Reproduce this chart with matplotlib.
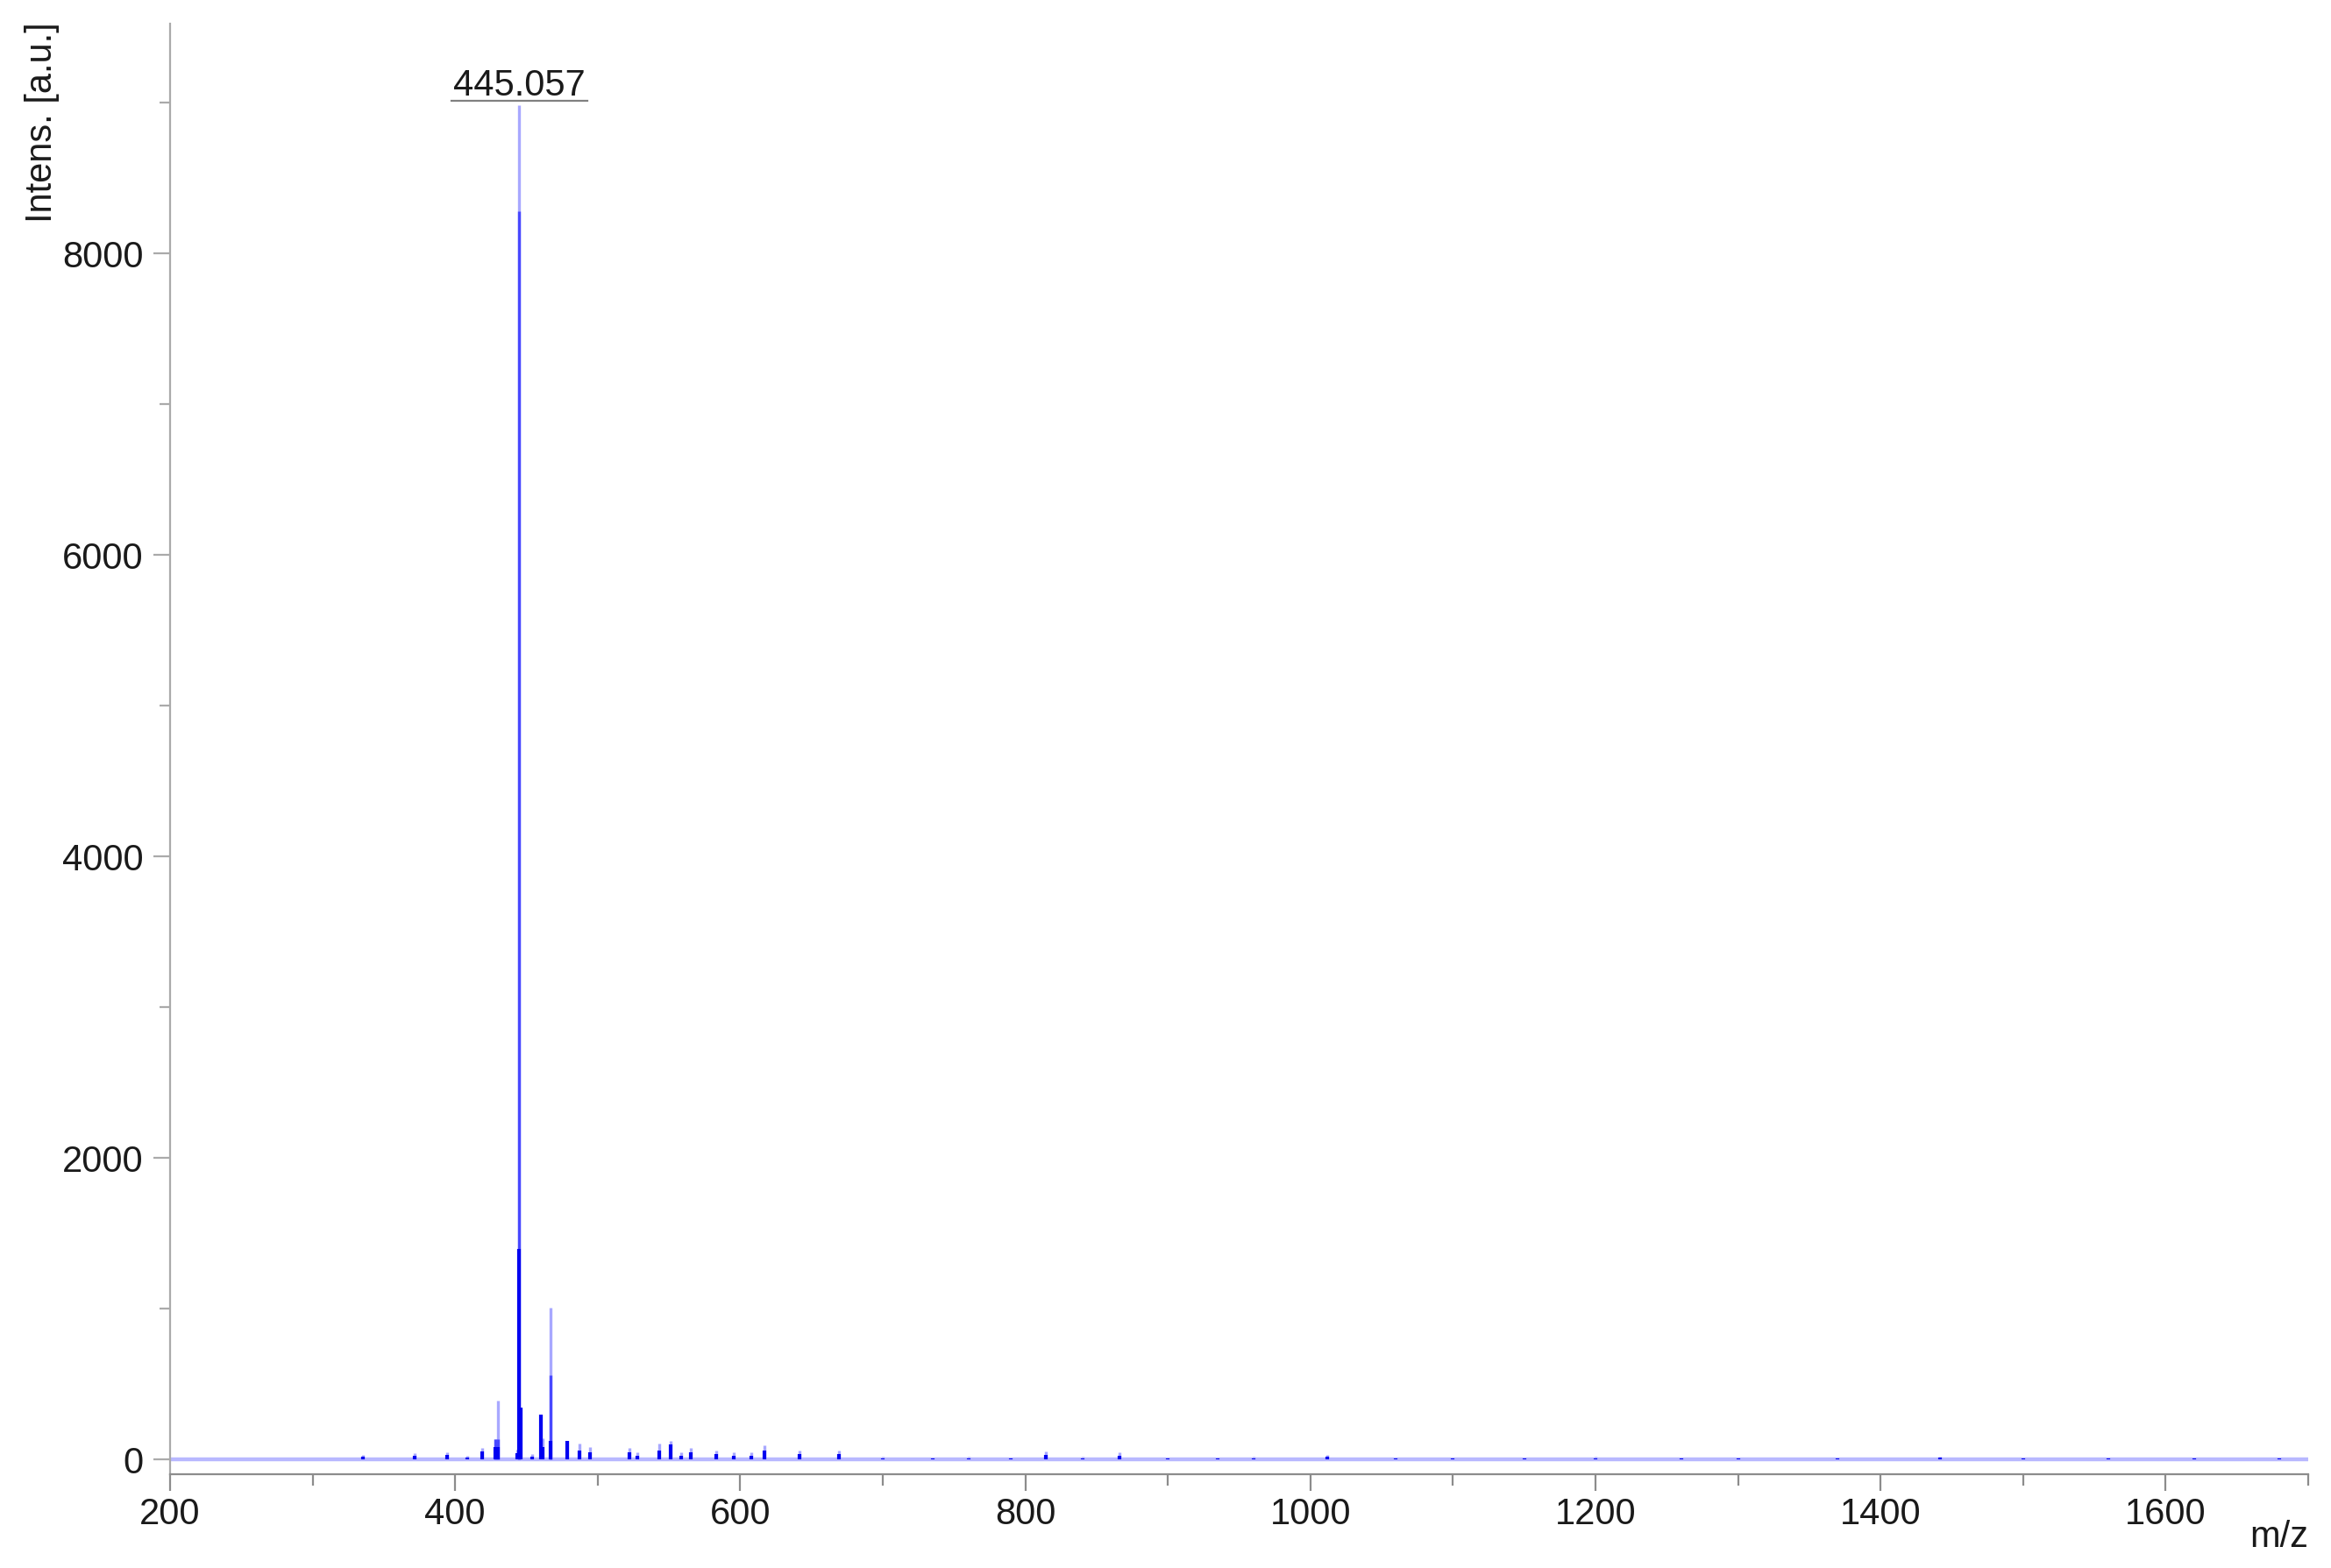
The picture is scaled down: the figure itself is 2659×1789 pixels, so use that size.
import numpy as np
import matplotlib
matplotlib.use('Agg')
import matplotlib.pyplot as plt
from matplotlib.lines import Line2D

plt.rcParams['font.family'] = ['Liberation Sans', 'DejaVu Sans']

# Peak list (m/z, intensity levels)
peak_mz = [335.0, 371.6, 394.4, 408.5, 419.0, 428.0, 430.3, 443.5, 445.06, 446.1,
           454.0, 460.2, 461.5, 467.0, 478.6, 487.0, 494.7, 522.3, 528.0, 543.2,
           551.2, 558.5, 565.4, 583.1, 595.4, 607.7, 617.0, 641.6, 669.3, 700.0,
           735.0, 760.0, 790.0, 814.4, 840.0, 866.0, 900.0, 935.0, 960.0, 1012.0,
           1060.0, 1100.0, 1150.0, 1200.0, 1260.0, 1300.0, 1370.0, 1442.0, 1500.0,
           1560.0, 1620.0, 1680.0]
# light tip (full height)
peak_top = [29, 43, 47, 23, 75, 134, 390, 64, 8980, 340,
            35, 297, 140, 1006, 122, 105, 81, 75, 47, 105,
            122, 47, 75, 58, 47, 47, 93, 58, 58, 15,
            12, 15, 14, 52, 15, 47, 14, 12, 15, 28,
            13, 12, 14, 15, 12, 13, 12, 18, 12,
            12, 11, 12]
# medium blue part
peak_mid = [0, 0, 0, 0, 0, 134, 134, 0, 8280, 0,
            0, 0, 0, 558, 0, 0, 0, 0, 0, 0,
            0, 0, 0, 0, 0, 0, 0, 0, 0, 0,
            0, 0, 0, 0, 0, 0, 0, 0, 0, 0,
            0, 0, 0, 0, 0, 0, 0, 0, 0,
            0, 0, 0]
# dark base part
peak_core = [15, 25, 30, 12, 50, 80, 80, 40, 1395, 340,
             20, 297, 80, 122, 122, 60, 45, 45, 25, 60,
             100, 25, 45, 35, 25, 25, 60, 35, 35, 8,
             6, 8, 7, 30, 8, 25, 7, 6, 8, 15,
             6, 6, 7, 8, 6, 7, 6, 10, 6,
             6, 6, 6]

label_mz = 445.06
label_text = '445.057'

x_major = [200, 400, 600, 800, 1000, 1200, 1400, 1600]
x_minor = [300, 500, 700, 900, 1100, 1300, 1500, 1700]
y_major = [0, 2000, 4000, 6000, 8000]
y_minor = [1000, 3000, 5000, 7000, 9000]

W, H = 2659, 1790
fig = plt.figure(figsize=(W / 100, H / 100), dpi=100)
ax = fig.add_axes([194 / W, 1 - 1683 / H, (2633 - 194) / W, (1683 - 28) / H])

light = '#a8a8ff'
mid = '#4848ff'
dark = '#0000f0'

# baseline noise band
ax.axhline(0, color='#b8b8ff', lw=3.2, zorder=1)
ax.vlines(peak_mz, 0, peak_top, colors=light, lw=2.4, zorder=2)
ax.vlines(peak_mz, 0, peak_mid, colors=mid, lw=2.4, zorder=3)
ax.vlines(peak_mz, 0, peak_core, colors=dark, lw=3.0, zorder=4)

ax.set_xlim(200, 1700)
ax.set_ylim(-99, 9523)

for s in ['top', 'right']:
    ax.spines[s].set_visible(False)
ax.spines['left'].set_color('#aaaaaa')
ax.spines['bottom'].set_color('#8c8c8c')
ax.spines['left'].set_linewidth(1.6)
ax.spines['bottom'].set_linewidth(1.6)

ax.set_xticks(x_major)
ax.set_xticks(x_minor, minor=True)
ax.set_yticks(y_major)
ax.set_yticks(y_minor, minor=True)
ax.tick_params(axis='both', which='both', direction='out', width=1.6,
               labelsize=30, labelcolor='#1a1a1a')
ax.tick_params(axis='x', which='major', length=14, pad=4, color='#8c8c8c')
ax.tick_params(axis='x', which='minor', length=9, color='#8c8c8c')
ax.tick_params(axis='y', which='major', length=14, pad=8, color='#aaaaaa')
ax.tick_params(axis='y', which='minor', length=9, color='#aaaaaa')

# peak label with underline
txt = ax.annotate(label_text, xy=(label_mz, peak_top[peak_mz.index(label_mz)]),
                  xytext=(0, 8.6), textcoords='offset points',
                  ha='center', va='baseline', fontsize=30, color='#1a1a1a')
fig.canvas.draw()
bb = txt.get_window_extent()
base_y = ax.transData.transform((label_mz, peak_top[peak_mz.index(label_mz)]))[1] + 5
fig.add_artist(Line2D([bb.x0 - 2, bb.x1 + 2], [base_y, base_y], transform=None,
                      color='#808080', lw=1.6))

fig.text(28 / W, 1 - 25 / H, 'Intens. [a.u.]', rotation=90, ha='left', va='top',
         fontsize=30, color='#1a1a1a')
fig.text(2633 / W, 1 - 1765 / H, 'm/z', ha='right', va='baseline',
         fontsize=30, color='#1a1a1a')

fig.savefig('out.png', dpi=100)
